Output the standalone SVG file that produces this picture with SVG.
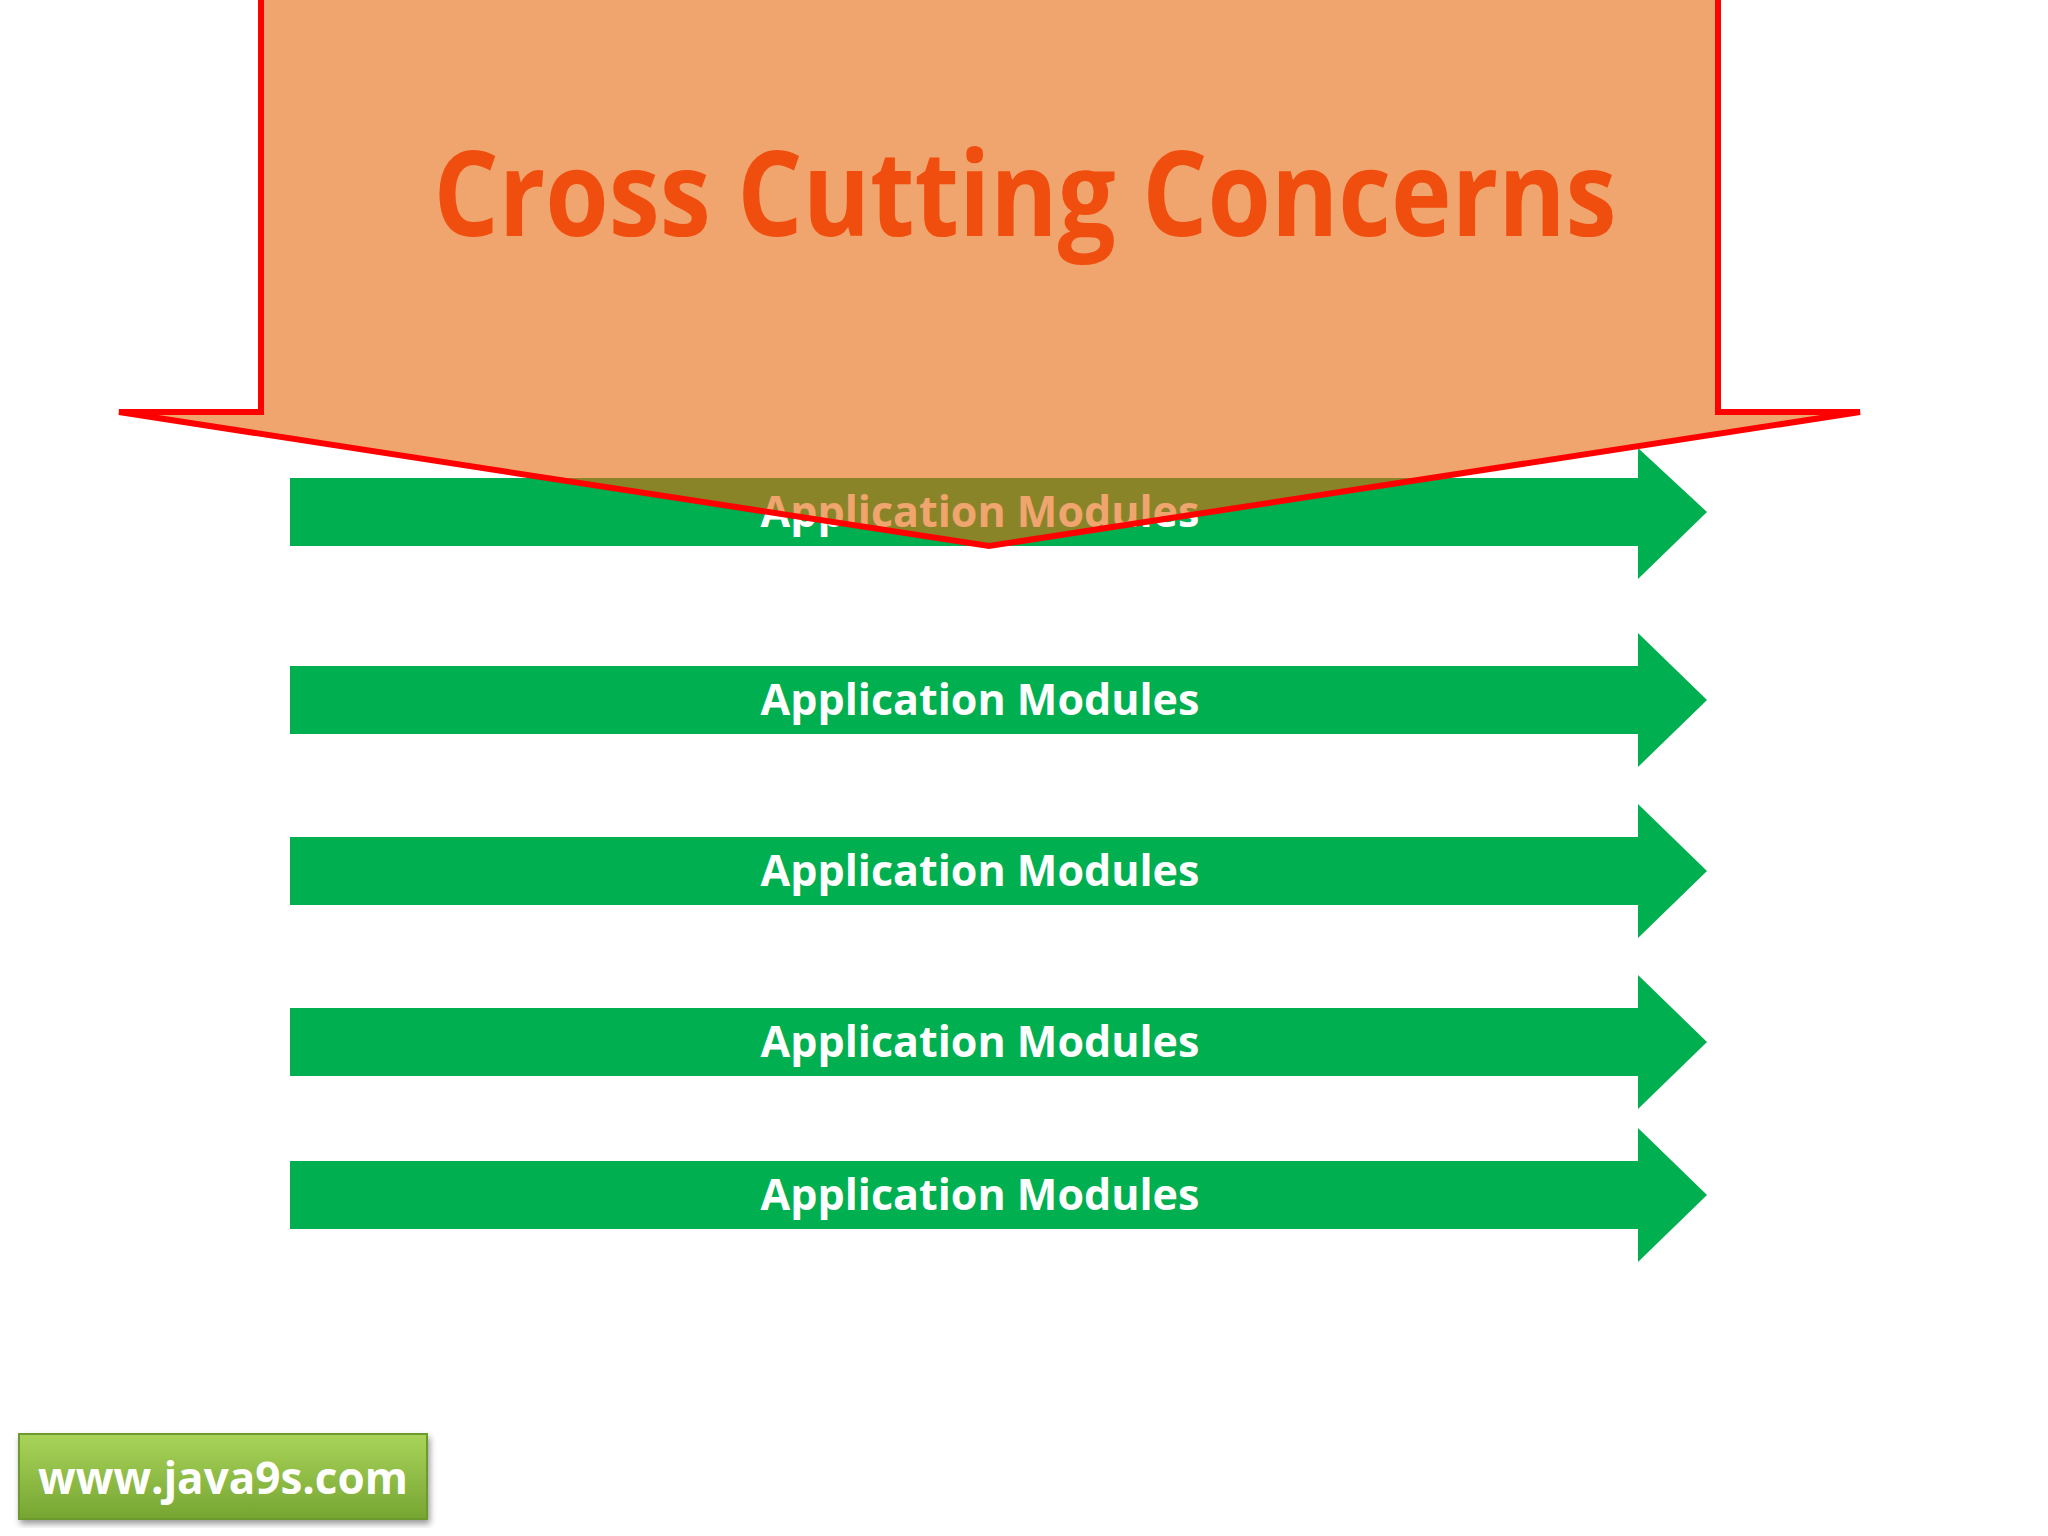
<svg xmlns="http://www.w3.org/2000/svg" width="2048" height="1536" viewBox="0 0 2048 1536">
<defs>
<style>
.arr{fill:#00b050}
.lbl{font-family:"Open Sans","Liberation Sans",sans-serif;font-weight:bold;font-size:43px;fill:#fff;text-anchor:middle}
</style>
<linearGradient id="gb" x1="0" y1="0" x2="0" y2="1"><stop offset="0" stop-color="#a9d45a"/><stop offset="1" stop-color="#76a532"/></linearGradient>
<filter id="sh"><feDropShadow dx="2" dy="4" stdDeviation="3" flood-opacity="0.4"/></filter>
</defs>
<rect width="2048" height="1536" fill="#fff"/>
<g id="modules">
<g id="m1"><path class="arr" d="M290 478H1638V448L1707 512L1638 579V546H290Z"/><text class="lbl" x="980" y="527">Application Modules</text></g>
<g id="m2"><path class="arr" d="M290 666H1638V633L1707 700L1638 767V734H290Z"/><text class="lbl" x="980" y="715">Application Modules</text></g>
<g id="m3"><path class="arr" d="M290 837H1638V804L1707 871L1638 938V905H290Z"/><text class="lbl" x="980" y="886">Application Modules</text></g>
<g id="m4"><path class="arr" d="M290 1008H1638V975L1707 1042L1638 1109V1076H290Z"/><text class="lbl" x="980" y="1057">Application Modules</text></g>
<g id="m5"><path class="arr" d="M290 1161H1638V1128L1707 1195L1638 1262V1229H290Z"/><text class="lbl" x="980" y="1210">Application Modules</text></g>
</g>
<g id="concerns">
<path d="M261 -10V412H119L989 546L1860 412H1718V-10Z" fill="#e6670d" fill-opacity="0.6" stroke="#ff0000" stroke-width="6"/>
<text x="1025" y="236" text-anchor="middle" font-family="Open Sans,Liberation Sans,sans-serif" font-weight="bold" font-size="118" fill="#f04e0f" textLength="1183" lengthAdjust="spacingAndGlyphs">Cross Cutting Concerns</text>
</g>
<g id="site">
<rect x="19" y="1434" width="408" height="85" fill="url(#gb)" stroke="#6d9a2e" stroke-width="2" filter="url(#sh)"/>
<text x="223" y="1494" text-anchor="middle" font-family="Open Sans,Liberation Sans,sans-serif" font-weight="bold" font-size="44" fill="#fff">www.java9s.com</text>
</g>
</svg>
